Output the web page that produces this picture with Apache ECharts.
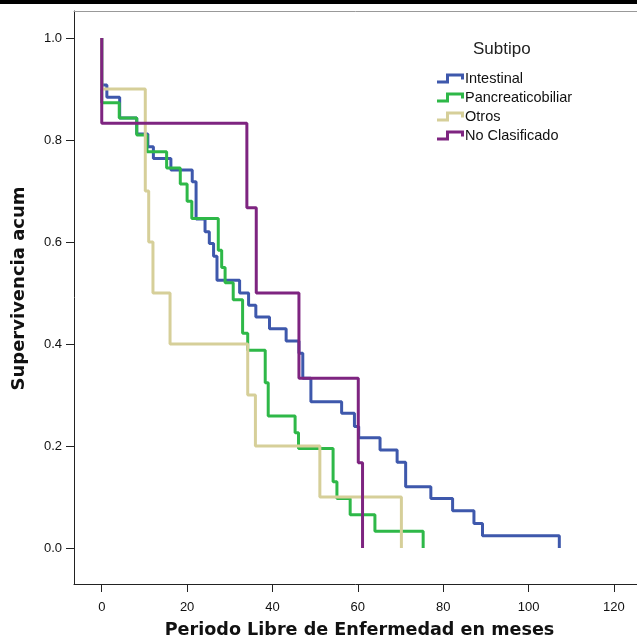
<!DOCTYPE html>
<html>
<head>
<meta charset="utf-8">
<script src="https://cdn.jsdelivr.net/npm/echarts@6/dist/echarts.min.js"></script>
<style>
  html, body { margin: 0; padding: 0; background: #fff; }
  #chart { width: 637px; height: 642px; }
</style>
</head>
<body>
<div id="chart"></div>
<script>
// survival steps: times (months) and survival after the drop
const intestinalTime = [0, 1.2, 4.2, 8.2, 10.8, 12.1, 16.2, 21.2, 22.1, 24.2, 25.2, 26.2, 27.0, 32.3, 34.4, 36.1, 39.3, 43.2, 46.2, 47.1, 49.0, 56.2, 59.2, 60.2, 65.2, 69.2, 71.2, 77.1, 82.2, 87.2, 89.2, 107.2]
const intestinalSurv = [0.908, 0.884, 0.843, 0.812, 0.787, 0.764, 0.741, 0.718, 0.645, 0.62, 0.597, 0.572, 0.525, 0.50, 0.476, 0.453, 0.43, 0.406, 0.382, 0.333, 0.287, 0.264, 0.238, 0.216, 0.192, 0.168, 0.12, 0.097, 0.073, 0.048, 0.024, 0]

const pancreatTime = [0, 4.1, 8.2, 10.6, 15.2, 18.4, 20.0, 21.1, 27.3, 28.1, 28.9, 30.8, 33.0, 34.2, 38.3, 39.0, 45.3, 46.1, 54.2, 55.1, 58.2, 64.0, 75.3]
const pancreatSurv = [0.873, 0.843, 0.81, 0.777, 0.745, 0.714, 0.68, 0.646, 0.584, 0.55, 0.52, 0.487, 0.421, 0.388, 0.324, 0.259, 0.226, 0.195, 0.13, 0.097, 0.065, 0.033, 0]

const otrosTime = [0, 10.2, 11.0, 12.0, 16.0, 34.2, 36.0, 51.1, 70.2]
const otrosSurv = [0.9, 0.7, 0.6, 0.5, 0.4, 0.3, 0.2, 0.1, 0]

const noClasTime = [0, 34.0, 36.2, 46.2, 60.1, 61.1]
const noClasSurv = [0.833, 0.667, 0.5, 0.333, 0.167, 0]

const xTicks = [0, 20, 40, 60, 80, 100, 120]
const yTicks = [0, 0.2, 0.4, 0.6, 0.8, 1.0]

const groups = [
  {name: 'Intestinal', time: intestinalTime, surv: intestinalSurv, color: '#3e58ac'},
  {name: 'Pancreaticobiliar', time: pancreatTime, surv: pancreatSurv, color: '#2eb848'},
  {name: 'Otros', time: otrosTime, surv: otrosSurv, color: '#d6cf99'},
  {name: 'No Clasificado', time: noClasTime, surv: noClasSurv, color: '#7e2480'},
]

function stepData(time, surv) {
  let data = [[0, 1]]
  for (let i = 0; i < time.length; i++) {
    data.push([time[i], surv[i]])
  }
  return data
}

const stepIcon = 'path://M0,7 L9,7 L9,0 L27,0 L27,6 L24,6 L24,3 L12,3 L12,10 L0,10 Z'
const titleFont = 'DejaVu Sans, Verdana, sans-serif'

const chart = echarts.init(document.getElementById('chart'))

chart.setOption({
  animation: false,
  textStyle: { fontFamily: 'Liberation Sans, Arial, sans-serif' },
  title: {
    text: 'Subtipo',
    left: 473,
    top: 41,
    padding: 0,
    textStyle: { fontSize: 17, fontWeight: 'normal', color: '#222' }
  },
  legend: {
    orient: 'vertical',
    left: 437,
    top: 71,
    padding: 0,
    itemWidth: 27,
    itemHeight: 10,
    itemGap: 4,
    icon: stepIcon,
    data: groups.map(g => g.name),
    textStyle: { fontSize: 14.5, color: '#111', padding: [0, 0, 0, -4] }
  },
  graphic: [
    { type: 'rect', shape: { x: 0, y: 0, width: 637, height: 4 }, style: { fill: '#000' } }
  ],
  grid: { left: 74, right: 0, top: 11, bottom: 58, outerBoundsMode: 'none' },
  xAxis: [
    {
      type: 'value',
      min: -6.5,
      max: 125.4,
      name: 'Periodo Libre de Enfermedad en meses',
      nameLocation: 'middle',
      nameGap: 37,
      nameTextStyle: { fontSize: 17.6, fontWeight: 'bold', color: '#111', fontFamily: titleFont, padding: [0, 0, 0, 8] },
      axisLine: { onZero: false, lineStyle: { color: '#222', width: 1 } },
      axisTick: { length: 8, lineStyle: { color: '#222' }, customValues: xTicks },
      axisLabel: { customValues: xTicks, fontSize: 13, color: '#111', margin: 17 },
      splitLine: { show: false }
    },
    {
      type: 'value',
      position: 'top',
      min: -6.5,
      max: 125.4,
      axisLine: { show: true, onZero: false, lineStyle: { color: '#999', width: 1 } },
      axisTick: { show: false },
      axisLabel: { show: false },
      splitLine: { show: false }
    }
  ],
  yAxis: {
    type: 'value',
    min: -0.0706,
    max: 1.053,
    name: 'Supervivencia acum',
    nameLocation: 'middle',
    nameGap: 46,
    nameTextStyle: { fontSize: 18, fontWeight: 'bold', color: '#111', fontFamily: titleFont, padding: [0, 0, 0, 18] },
    axisLine: { show: true, onZero: false, lineStyle: { color: '#222', width: 1 } },
    axisTick: { show: true, length: 8, lineStyle: { color: '#222' }, customValues: yTicks },
    axisLabel: {
      customValues: yTicks,
      fontSize: 13,
      color: '#111',
      margin: 12,
      formatter: v => v.toFixed(1)
    },
    splitLine: { show: false }
  },
  series: groups.map(g => ({
    name: g.name,
    type: 'line',
    step: 'end',
    data: stepData(g.time, g.surv),
    showSymbol: false,
    color: g.color,
    lineStyle: { color: g.color, width: 3 },
    itemStyle: { color: g.color }
  }))
})
</script>
</body>
</html>
